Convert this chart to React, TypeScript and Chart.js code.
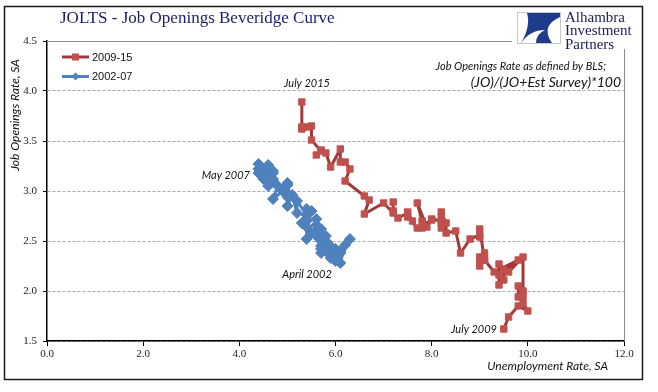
import React, { useEffect, useRef } from 'react';
import { Chart, registerables } from 'chart.js';

Chart.register(...registerables);

// 2009-15 series (Jul 2009 .. Jul 2015): unemployment rate, job openings rate
const red_ur = [
  9.5, 9.6, 9.8, 10.0, 9.9, 9.9,
  9.8, 9.8, 9.9, 9.9, 9.6, 9.4, 9.4, 9.5, 9.5, 9.4, 9.8, 9.3,
  9.1, 9.0, 9.0, 9.1, 9.0, 9.1, 9.0, 9.0, 9.0, 8.8, 8.6, 8.5,
  8.3, 8.3, 8.2, 8.2, 8.2, 8.2, 8.2, 8.0, 7.8, 7.8, 7.7, 7.9,
  8.0, 7.7, 7.5, 7.6, 7.5, 7.5, 7.3, 7.2, 7.2, 7.2, 7.0, 6.6,
  6.7, 6.6, 6.2, 6.3, 6.2, 6.1, 6.1, 5.9, 5.8, 5.7, 5.6, 5.7,
  5.5, 5.5, 5.4, 5.3, 5.3, 5.3, 5.3,
];
const red_jo = [
  1.62, 1.74, 1.85, 1.80, 1.88, 1.95,
  2.05, 1.94, 2.00, 2.34, 2.19, 2.27, 2.06, 2.11, 2.21, 2.16, 2.31, 2.19,
  2.31, 2.25, 2.31, 2.38, 2.34, 2.31, 2.62, 2.54, 2.56, 2.52, 2.38, 2.60,
  2.58, 2.68, 2.79, 2.74, 2.68, 2.63, 2.70, 2.72, 2.63, 2.70, 2.88, 2.64,
  2.71, 2.63, 2.74, 2.70, 2.79, 2.78, 2.73, 2.80, 2.89, 2.78, 2.88, 2.77,
  2.91, 2.95, 3.10, 3.22, 3.29, 3.29, 3.42, 3.24, 3.38, 3.41, 3.36, 3.40,
  3.51, 3.65, 3.64, 3.63, 3.62, 3.64, 3.89,
];

// 2002-07 series (Apr 2002 .. May 2007)
const blue_ur = [
  5.9, 5.8, 5.8, 5.7, 5.7, 5.7, 5.7, 5.9, 6.0,
  5.8, 5.9, 5.9, 6.0, 6.1, 6.3, 6.2, 6.1, 6.1, 6.0, 5.8, 5.7,
  5.7, 5.6, 5.8, 5.6, 5.6, 5.6, 5.5, 5.4, 5.4, 5.5, 5.4, 5.4,
  5.3, 5.4, 5.2, 5.2, 5.1, 5.0, 5.0, 4.9, 5.0, 5.0, 5.0, 4.9,
  4.7, 4.8, 4.7, 4.7, 4.6, 4.6, 4.7, 4.7, 4.5, 4.4, 4.5, 4.4,
  4.6, 4.5, 4.4, 4.5, 4.4,
];
const blue_jo = [
  2.38, 2.47, 2.40, 2.45, 2.38, 2.50, 2.42, 2.33, 2.30,
  2.55, 2.45, 2.36, 2.32, 2.40, 2.52, 2.46, 2.28, 2.38, 2.42, 2.50, 2.52,
  2.62, 2.55, 2.48, 2.72, 2.60, 2.66, 2.58, 2.52, 2.64, 2.80, 2.70, 2.82,
  2.68, 2.76, 2.90, 2.78, 2.96, 2.85, 2.94, 3.02, 3.08, 2.98, 3.06, 3.00,
  2.92, 3.05, 3.10, 3.18, 3.14, 3.05, 3.12, 3.20, 3.16, 3.22, 3.12, 3.18,
  3.26, 3.20, 3.27, 3.15, 3.22,
];

const seriesNames = ['2009-15', '2002-07'];
const titleText = 'JOLTS - Job Openings Beveridge Curve';
const noteLine1 = 'Job Openings Rate as defined by BLS;';
const noteLine2 = '(JO)/(JO+Est Survey)*100';
const logoLines = ['Alhambra', 'Investment', 'Partners'];

const RED_LINE = '#a0393a';
const RED_MARK = '#c0504d';
const BLUE = '#4f81bd';

const overlay = {
  id: 'overlay',
  beforeDraw(chart: any) {
    const ctx = chart.ctx;
    ctx.save();
    ctx.fillStyle = '#fff';
    ctx.fillRect(0, 0, chart.width, chart.height);
    ctx.restore();
  },
  beforeDatasetsDraw(chart: any) {
    const { ctx, chartArea: a } = chart;
    ctx.save();
    ctx.strokeStyle = '#8c8c8c';
    ctx.lineWidth = 1;
    ctx.beginPath();
    ctx.moveTo(a.left, a.top + 0.5);
    ctx.lineTo(a.right + 0.5, a.top + 0.5);
    ctx.lineTo(a.right + 0.5, a.bottom);
    ctx.stroke();
    ctx.restore();
  },
  afterDraw(chart: any) {
    const { ctx } = chart;
    ctx.save();
    // outer frame
    ctx.strokeStyle = '#1a1a1a';
    ctx.lineWidth = 1.5;
    ctx.strokeRect(4.5, 6.5, 638, 373);

    // title
    ctx.fillStyle = '#1c1c6e';
    ctx.font = '17px "Liberation Serif", serif';
    ctx.textBaseline = 'middle';
    ctx.textAlign = 'left';
    ctx.fillText(titleText, 60, 19);

    // logo
    ctx.fillStyle = '#fff';
    ctx.fillRect(512, 9, 126, 40);
    ctx.strokeStyle = '#c8c8c8';
    ctx.lineWidth = 1;
    ctx.strokeRect(517.5, 12.5, 43, 31);
    ctx.fillStyle = '#1f3b8c';
    ctx.beginPath();
    ctx.moveTo(527, 13);
    ctx.lineTo(560, 13);
    ctx.lineTo(560, 17);
    ctx.quadraticCurveTo(540, 26, 552, 43);
    ctx.lineTo(521, 43);
    ctx.quadraticCurveTo(531, 26, 527, 13);
    ctx.closePath();
    ctx.fill();
    ctx.fillStyle = '#fff';
    ctx.beginPath();
    ctx.moveTo(521, 43);
    ctx.quadraticCurveTo(530, 30, 545, 30);
    ctx.quadraticCurveTo(536, 34, 536, 43);
    ctx.closePath();
    ctx.fill();
    ctx.fillStyle = '#1c1c5a';
    ctx.font = '15px "Liberation Serif", serif';
    ctx.textAlign = 'left';
    logoLines.forEach((t, i) => ctx.fillText(t, 565, 18 + i * 13.5));

    // formula note
    ctx.fillStyle = '#111';
    ctx.textAlign = 'right';
    ctx.font = 'italic 11px Lato, sans-serif';
    ctx.fillText(noteLine1, 606, 66);
    ctx.font = 'italic 14px Lato, sans-serif';
    ctx.fillText(noteLine2, 621, 82);

    // point labels
    ctx.font = 'italic 11px Lato, sans-serif';
    ctx.textAlign = 'center';
    ctx.fillText('July 2015', 307, 83);
    ctx.fillText('April 2002', 307, 274);
    ctx.textAlign = 'right';
    ctx.fillText('May 2007', 250, 175);
    ctx.fillText('July 2009', 497, 329);

    // axis titles
    ctx.font = 'italic 12px Lato, sans-serif';
    ctx.textAlign = 'right';
    ctx.fillText('Unemployment Rate, SA', 608, 366);
    ctx.save();
    ctx.translate(15, 115);
    ctx.rotate(-Math.PI / 2);
    ctx.textAlign = 'center';
    ctx.fillText('Job Openings Rate, SA', 0, 0);
    ctx.restore();

    // legend
    const items = [
      { y: 57, line: RED_LINE, mark: RED_MARK, style: 'rect' },
      { y: 76.5, line: BLUE, mark: BLUE, style: 'rectRot' },
    ];
    items.forEach((it, i) => {
      ctx.strokeStyle = it.line;
      ctx.lineWidth = 3;
      ctx.beginPath();
      ctx.moveTo(62, it.y);
      ctx.lineTo(89, it.y);
      ctx.stroke();
      ctx.fillStyle = it.mark;
      if (it.style === 'rect') {
        ctx.fillRect(75.5 - 3.5, it.y - 3.5, 7, 7);
      } else {
        ctx.beginPath();
        ctx.moveTo(75.5, it.y - 4);
        ctx.lineTo(79.5, it.y);
        ctx.lineTo(75.5, it.y + 4);
        ctx.lineTo(71.5, it.y);
        ctx.closePath();
        ctx.fill();
      }
      ctx.fillStyle = '#111';
      ctx.font = '11px "Liberation Sans", Arial, sans-serif';
      ctx.textAlign = 'left';
      ctx.fillText(seriesNames[i], 92, it.y + 0.5);
    });
    ctx.restore();
  },
};

export default function App() {
  const ref = useRef<HTMLCanvasElement | null>(null);
  useEffect(() => {
    if (!ref.current) return;
    const redData = red_ur.map((x, i) => ({ x, y: red_jo[i] }));
    const blueData = blue_ur.map((x, i) => ({ x, y: blue_jo[i] }));
    const tickFont = { family: '"Liberation Serif", serif', size: 11 };
    const chart = new Chart(ref.current, {
      type: 'scatter',
      data: {
        datasets: [
          {
            label: seriesNames[1],
            data: blueData,
            showLine: true,
            borderColor: BLUE,
            backgroundColor: BLUE,
            pointBackgroundColor: BLUE,
            pointBorderColor: BLUE,
            pointStyle: 'rectRot',
            pointRadius: 5.5,
            pointBorderWidth: 1,
            borderWidth: 3,
            borderJoinStyle: 'round',
            borderCapStyle: 'round',
          },
          {
            label: seriesNames[0],
            data: redData,
            showLine: true,
            borderColor: RED_LINE,
            backgroundColor: RED_MARK,
            pointBackgroundColor: RED_MARK,
            pointBorderColor: RED_MARK,
            pointStyle: 'rect',
            pointRadius: 4.5,
            pointBorderWidth: 1,
            borderWidth: 3,
            borderJoinStyle: 'round',
            borderCapStyle: 'round',
          },
        ],
      },
      options: {
        animation: false,
        responsive: false,
        devicePixelRatio: 1,
        layout: { padding: { left: 0, right: 34, top: 41, bottom: 31 } },
        plugins: { legend: { display: false }, tooltip: { enabled: false }, title: { display: false } },
        scales: {
          x: {
            type: 'linear',
            min: 0,
            max: 12,
            afterFit: (s: any) => { s.height = 20; },
            ticks: { stepSize: 2, callback: (v: any) => Number(v).toFixed(1), color: '#222', font: tickFont, padding: 2, maxRotation: 0 },
            grid: { drawOnChartArea: false, drawTicks: true, tickLength: 5, tickColor: '#000', tickWidth: 1 },
            border: { display: true, color: '#000', width: 1.5 },
          },
          y: {
            type: 'linear',
            min: 1.5,
            max: 4.5,
            afterFit: (s: any) => { s.width = 47; },
            ticks: { stepSize: 0.5, callback: (v: any) => Number(v).toFixed(1), color: '#222', font: tickFont, padding: 6 },
            grid: { color: '#a6a6a6', lineWidth: 1, drawTicks: true, tickLength: 4, tickColor: '#000', tickWidth: 1 },
            border: { display: true, color: '#000', width: 1.5, dash: [3, 2] },
          },
        },
      },
      plugins: [overlay],
    } as any);
    return () => chart.destroy();
  }, []);
  return (
    <div style={{ position: 'fixed', left: 0, top: 0, width: 658, height: 392, background: '#fff' }}>
      <canvas ref={ref} width={658} height={392} style={{ display: 'block', width: 658, height: 392 }} />
    </div>
  );
}
